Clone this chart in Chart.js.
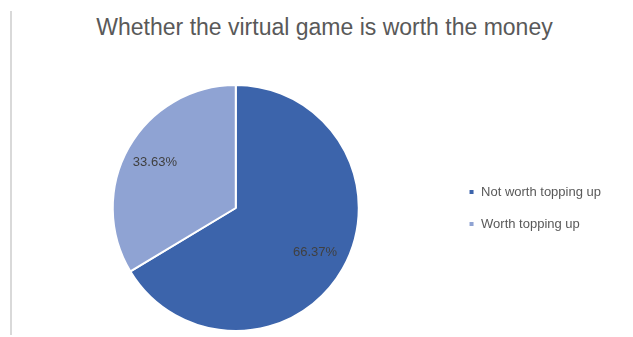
<!DOCTYPE html>
<html lang="en">
<head>
  <meta charset="UTF-8">
  <title>Whether the virtual game is worth the money</title>
  <script src="https://cdn.jsdelivr.net/npm/chart.js"></script>
  <style>
    html, body { margin: 0; padding: 0; background: #fff; }
    .wrap { position: relative; width: 633px; height: 337px; }
    .edge { position: absolute; left: 10px; top: 11px; width: 0; height: 324px; border-left: 2px solid #d9d9d9; }
    h1 {
      position: absolute; left: 16px; top: 13px; width: 617px; margin: 0;
      font: normal 23px/28px "Liberation Sans", Arial, sans-serif;
      color: #595959; text-align: center;
    }
    canvas { position: absolute; left: 0; top: 0; }
  </style>
</head>
<body>
  <div class="wrap">
    <div class="edge"></div>
    <h1 id="chartTitle"></h1>
    <canvas id="pieCanvas" width="633" height="337"></canvas>
  </div>

  <script>
    const chartTitle = "Whether the virtual game is worth the money";
    const categories = ["Not worth topping up", "Worth topping up"];
    const shares = [66.37, 33.63];
    const sliceColors = ["#3c64ab", "#8fa3d3"];

    // how far out from the centre each percentage sits (fraction of radius)
    const labelRadius = [0.74, 0.755];

    document.getElementById("chartTitle").textContent = chartTitle;

    const percentLabels = {
      id: "percentLabels",
      afterDatasetsDraw(chart) {
        const ctx = chart.ctx;
        const meta = chart.getDatasetMeta(0);
        ctx.save();
        ctx.font = "13px 'Liberation Sans', Arial, sans-serif";
        ctx.fillStyle = "#404040";
        ctx.textAlign = "center";
        ctx.textBaseline = "middle";
        meta.data.forEach((arc, i) => {
          const p = arc.getProps(["x", "y", "startAngle", "endAngle", "outerRadius"], true);
          const mid = (p.startAngle + p.endAngle) / 2;
          const r = p.outerRadius * labelRadius[i];
          ctx.fillText(shares[i].toFixed(2) + "%", p.x + Math.cos(mid) * r, p.y + Math.sin(mid) * r);
        });
        ctx.restore();
      }
    };

    new Chart(document.getElementById("pieCanvas"), {
      type: "pie",
      data: {
        labels: categories,
        datasets: [{
          data: shares,
          backgroundColor: sliceColors,
          borderColor: "#ffffff",
          borderWidth: 2
        }]
      },
      options: {
        responsive: false,
        animation: false,
        layout: { padding: { left: 22, right: 22, top: 84, bottom: 5 } },
        plugins: {
          tooltip: { enabled: false },
          legend: {
            position: "right",
            fullSize: false,
            labels: {
              color: "#595959",
              font: { family: "'Liberation Sans', Arial, sans-serif", size: 13 },
              boxWidth: 6,
              boxHeight: 6,
              padding: 19
            }
          }
        }
      },
      plugins: [percentLabels]
    });
  </script>
</body>
</html>
